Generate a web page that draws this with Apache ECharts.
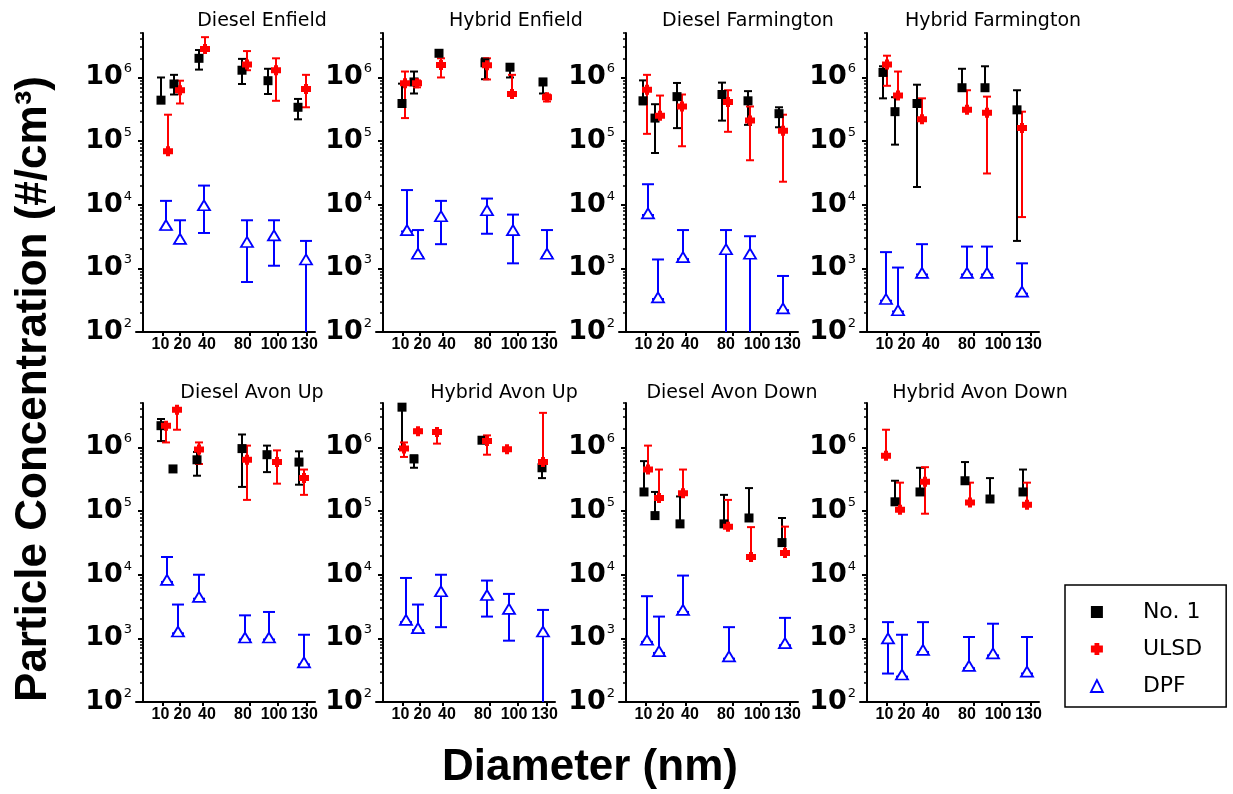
<!DOCTYPE html>
<html>
<head>
<meta charset="utf-8">
<script src="https://cdn.jsdelivr.net/npm/echarts@6/dist/echarts.min.js"></script>
<style>
  html, body { margin: 0; padding: 0; background: #fff; }
  #chart { width: 1233px; height: 794px; }
</style>
</head>
<body>
<div id="chart"></div>
<script>
// Particle size channels (nm) printed under every panel
const diameterLabels = ['10', '20', '40', '80', '100', '130'];
// Positions of the size channels along the 0–172 size axis
const channelTicks = [20, 37, 60, 107, 135, 164];
const channelLabelAt = [17.5, 39.5, 64, 100, 131, 161.5];
// Decades labelled on the concentration axis
const yTickValues = [1e2, 1e3, 1e4, 1e5, 1e6];
const yMinorValues = [];
for (let e = 2; e <= 6; e++) {
  for (let k = 2; k <= 9; k++) {
    const v = k * Math.pow(10, e);
    if (v <= 5e6) yMinorValues.push(v);
  }
}

const seriesNames = ['No. 1', 'ULSD', 'DPF'];
const seriesColors = ['#000000', '#ff0000', '#0000ff'];

// Each point: [position on size axis, mean, lower bound, upper bound] in #/cm3
const dieselEnfieldNo1 = [[18, 4.4e5, 4.4e5, 1e6], [31, 7.9e5, 5.4e5, 1.1e6], [56, 2.0e6, 1.33e6, 2.7e6], [99, 1.3e6, 7.9e5, 1.96e6], [125, 8.9e5, 5.5e5, 1.37e6], [155, 3.4e5, 2.2e5, 4.6e5]];
const dieselEnfieldUlsd = [[25, 6.9e4, 6.9e4, 2.6e5], [37, 6.3e5, 3.9e5, 8.9e5], [62, 2.8e6, 2.8e6, 4.3e6], [104, 1.6e6, 1.3e6, 2.6e6], [133, 1.3e6, 4.3e5, 2.0e6], [163, 6.6e5, 3.4e5, 1.1e6]];
const dieselEnfieldDpf = [[23, 4.8e3, 4.1e3, 1.15e4], [37, 2.9e3, 2.5e3, 5.7e3], [61, 9.8e3, 3.6e3, 2.0e4], [104, 2.6e3, 6.1e2, 5.7e3], [131, 3.3e3, 1.1e3, 5.7e3], [163, 1.38e3, 50, 2.7e3]];

const hybridEnfieldNo1 = [[19, 3.9e5, 3.9e5, 8e5], [31, 8.5e5, 5.6e5, 1.24e6], [56, 2.4e6, 2.4e6, 2.6e6], [102, 1.7e6, 9.4e5, 2.0e6], [127, 1.45e6, 1.0e6, 1.45e6], [160, 8.5e5, 5.6e5, 9.5e5]];
const hybridEnfieldUlsd = [[22, 8.1e5, 2.3e5, 1.24e6], [34, 8.1e5, 7e5, 9e5], [58, 1.57e6, 1.0e6, 2.0e6], [104, 1.55e6, 9.3e5, 2.0e6], [129, 5.5e5, 5.5e5, 1.1e6], [164, 4.9e5, 4.2e5, 5.4e5]];
const hybridEnfieldDpf = [[24, 4.0e3, 3.8e3, 1.7e4], [35, 1.7e3, 1.5e3, 4.0e3], [58, 6.6e3, 2.4e3, 1.15e4], [104, 8.2e3, 3.5e3, 1.25e4], [130, 4.0e3, 1.2e3, 7.0e3], [164, 1.7e3, 1.5e3, 4.0e3]];

const dieselFarmingtonNo1 = [[17, 4.3e5, 3.8e5, 9e5], [29, 2.3e5, 6.5e4, 3.8e5], [51, 5.0e5, 1.6e5, 8.2e5], [96, 5.4e5, 2.1e5, 8.3e5], [122, 4.3e5, 1.8e5, 6.1e5], [153, 2.7e5, 1.65e5, 3.4e5]];
const dieselFarmingtonUlsd = [[21, 6.4e5, 1.3e5, 1.1e6], [34, 2.5e5, 2.5e5, 5.2e5], [56, 3.5e5, 8.3e4, 5.4e5], [102, 4.1e5, 1.4e5, 6.3e5], [124, 2.1e5, 5.0e4, 3.5e5], [157, 1.45e5, 2.3e4, 2.6e5]];
const dieselFarmingtonDpf = [[22, 7.3e3, 6.9e3, 2.1e4], [32, 3.5e2, 3.3e2, 1.38e3], [57, 1.5e3, 1.4e3, 4.0e3], [100, 2.0e3, 50, 4.0e3], [124, 1.7e3, 50, 3.2e3], [157, 2.35e2, 2.2e2, 7.6e2]];

const hybridFarmingtonNo1 = [[16, 1.2e6, 4.7e5, 1.5e6], [28, 2.9e5, 8.8e4, 4.9e5], [50, 3.9e5, 1.9e4, 7.7e5], [95, 6.9e5, 6.9e5, 1.37e6], [118, 6.9e5, 6.9e5, 1.5e6], [150, 3.1e5, 2.7e3, 6.3e5]];
const hybridFarmingtonUlsd = [[20, 1.6e6, 7.4e5, 2.2e6], [31, 5.2e5, 5.2e5, 1.24e6], [55, 2.2e5, 2.2e5, 4.7e5], [100, 3.1e5, 3.1e5, 6.3e5], [120, 2.8e5, 3.1e4, 5.0e5], [155, 1.6e5, 6.4e3, 2.9e5]];
const hybridFarmingtonDpf = [[19, 3.3e2, 3.1e2, 1.8e3], [31, 2.2e2, 2.1e2, 1.03e3], [55, 8.5e2, 8.0e2, 2.4e3], [100, 8.5e2, 8.0e2, 2.2e3], [120, 8.5e2, 8.0e2, 2.2e3], [155, 4.3e2, 4.0e2, 1.2e3]];

const dieselAvonUpNo1 = [[18, 2.2e6, 1.26e6, 2.8e6], [30, 4.6e5, 4.2e5, 5.0e5], [54, 6.4e5, 3.6e5, 8.5e5], [99, 9.6e5, 2.4e5, 1.6e6], [124, 7.7e5, 4.1e5, 1.07e6], [156, 5.9e5, 2.6e5, 8.7e5]];
const dieselAvonUpUlsd = [[23, 2.2e6, 1.2e6, 2.2e6], [34, 3.9e6, 1.9e6, 3.9e6], [56, 9.3e5, 5.5e5, 1.2e6], [104, 6.4e5, 1.5e5, 1.07e6], [134, 5.9e5, 2.7e5, 9e5], [161, 3.3e5, 1.8e5, 4.5e5]];
const dieselAvonUpDpf = [[24, 8.3e3, 7.7e3, 1.9e4], [35, 1.28e3, 1.2e3, 3.4e3], [56, 4.5e3, 4.2e3, 1.0e4], [102, 1.03e3, 9.6e2, 2.3e3], [126, 1.03e3, 9.6e2, 2.6e3], [161, 4.2e2, 3.9e2, 1.14e3]];

const hybridAvonUpNo1 = [[19, 4.3e6, 9.4e5, 4.3e6], [31, 6.6e5, 4.8e5, 7.5e5], null, [99, 1.3e6, 1.2e6, 1.4e6], null, [159, 4.8e5, 3.3e5, 5.5e5]];
const hybridAvonUpUlsd = [[21, 9.6e5, 7.1e5, 1.2e6], [35, 1.8e6, 1.7e6, 1.9e6], [54, 1.75e6, 1.15e6, 1.75e6], [104, 1.26e6, 7.7e5, 1.55e6], [124, 9.4e5, 9.4e5, 9.4e5], [160, 5.9e5, 5.9e5, 3.5e6]];
const hybridAvonUpDpf = [[23, 1.95e3, 1.8e3, 8.9e3], [35, 1.45e3, 1.35e3, 3.4e3], [58, 5.5e3, 1.5e3, 1.0e4], [104, 4.8e3, 2.2e3, 8.1e3], [126, 2.9e3, 9.2e2, 5.0e3], [160, 1.28e3, 50, 2.8e3]];

const dieselAvonDownNo1 = [[18, 2.0e5, 2.0e5, 6.1e5], [29, 8.5e4, 8.5e4, 2.0e5], [54, 6.3e4, 6.3e4, 1.7e5], [98, 6.3e4, 6.3e4, 1.8e5], [123, 7.8e4, 7.8e4, 2.3e5], [156, 3.2e4, 3.2e4, 7.8e4]];
const dieselAvonDownUlsd = [[22, 4.5e5, 4.5e5, 1.07e6], [33, 1.6e5, 1.6e5, 4.5e5], [57, 1.9e5, 1.9e5, 4.5e5], [102, 5.7e4, 5.7e4, 1.5e5], [125, 1.9e4, 1.9e4, 5.6e4], [159, 2.2e4, 2.2e4, 5.7e4]];
const dieselAvonDownDpf = [[21, 9.5e2, 8.8e2, 4.6e3], [33, 6.3e2, 5.9e2, 2.2e3], [57, 2.8e3, 2.6e3, 9.7e3], [103, 5.2e2, 4.8e2, 1.5e3], null, [159, 8.4e2, 7.8e2, 2.1e3]];

const hybridAvonDownNo1 = [null, [28, 1.4e5, 1.4e5, 3.0e5], [53, 2.0e5, 2.0e5, 4.8e5], [98, 3.0e5, 3.0e5, 5.9e5], [123, 1.55e5, 1.55e5, 3.3e5], [156, 2.0e5, 2.0e5, 4.5e5]];
const hybridAvonDownUlsd = [[19, 7.4e5, 7.4e5, 1.9e6], [33, 1.05e5, 1.05e5, 2.8e5], [58, 2.9e5, 9.1e4, 4.9e5], [103, 1.37e5, 1.37e5, 2.8e5], null, [160, 1.26e5, 1.26e5, 2.8e5]];
const hybridAvonDownDpf = [[21, 1.0e3, 2.8e2, 1.8e3], [35, 2.7e2, 2.5e2, 1.14e3], [56, 6.6e2, 6.1e2, 1.8e3], [102, 3.7e2, 3.4e2, 1.05e3], [126, 5.8e2, 5.4e2, 1.7e3], [160, 3.0e2, 2.8e2, 1.05e3]];

const panels = [
  { title: 'Diesel Enfield', sets: [dieselEnfieldNo1, dieselEnfieldUlsd, dieselEnfieldDpf] },
  { title: 'Hybrid Enfield', sets: [hybridEnfieldNo1, hybridEnfieldUlsd, hybridEnfieldDpf] },
  { title: 'Diesel Farmington', sets: [dieselFarmingtonNo1, dieselFarmingtonUlsd, dieselFarmingtonDpf] },
  { title: 'Hybrid Farmington', sets: [hybridFarmingtonNo1, hybridFarmingtonUlsd, hybridFarmingtonDpf] },
  { title: 'Diesel Avon Up', sets: [dieselAvonUpNo1, dieselAvonUpUlsd, dieselAvonUpDpf] },
  { title: 'Hybrid Avon Up', sets: [hybridAvonUpNo1, hybridAvonUpUlsd, hybridAvonUpDpf] },
  { title: 'Diesel Avon Down', sets: [dieselAvonDownNo1, dieselAvonDownUlsd, dieselAvonDownDpf] },
  { title: 'Hybrid Avon Down', sets: [hybridAvonDownNo1, hybridAvonDownUlsd, hybridAvonDownDpf] }
];

// ---- layout ----
const colAxisX = [143, 383, 626, 867];
const rowTop = [33, 403];
const plotHeight = 299;
const titleCenters = [[262, 516, 748, 993], [252, 504, 732, 980]];
const titleMiddles = [21, 393];

const ulsdSymbol = 'path://M3,0L7,0L7,2L10,2L10,8L7,8L7,10L3,10L3,8L0,8L0,2L3,2Z';
const markerSymbols = ['rect', ulsdSymbol, 'triangle'];
const markerSizes = [9, 10, [12, 10]];
const capHalfWidths = [4, 4, 6];

function errorBarRenderer(capHalf) {
  return function (params, api) {
    const x = api.value(0), m = api.value(1), lo = api.value(2), hi = api.value(3);
    const pm = api.coord([x, m]);
    const pl = api.coord([x, lo]);
    const ph = api.coord([x, hi]);
    const style = { stroke: api.visual('color'), lineWidth: 2 };
    const children = [];
    if (hi > m) {
      children.push({ type: 'line', shape: { x1: ph[0], y1: ph[1], x2: pm[0], y2: pm[1] }, style });
      children.push({ type: 'line', shape: { x1: ph[0] - capHalf, y1: ph[1], x2: ph[0] + capHalf, y2: ph[1] }, style });
    }
    if (lo < m) {
      children.push({ type: 'line', shape: { x1: pl[0], y1: pl[1], x2: pm[0], y2: pm[1] }, style });
      children.push({ type: 'line', shape: { x1: pl[0] - capHalf, y1: pl[1], x2: pl[0] + capHalf, y2: pl[1] }, style });
    }
    return { type: 'group', children };
  };
}

const grids = [], xAxes = [], yAxes = [], series = [], graphics = [];

panels.forEach((p, i) => {
  const row = Math.floor(i / 4), col = i % 4;
  grids.push({ left: colAxisX[col] - 7, top: rowTop[row], width: 179, height: plotHeight, containLabel: false });

  xAxes.push({
    type: 'value', gridIndex: i, min: -7, max: 172,
    axisLine: { show: true, onZero: false, lineStyle: { color: '#000', width: 2 } },
    axisTick: { show: true, customValues: channelTicks, length: 4, lineStyle: { color: '#000', width: 2 } },
    axisLabel: {
      customValues: channelLabelAt,
      formatter: v => diameterLabels[channelLabelAt.indexOf(v)],
      margin: 5, color: '#000',
      fontFamily: '"Liberation Sans Narrow", "Liberation Sans", sans-serif',
      fontWeight: 'bold', fontSize: 16
    },
    splitLine: { show: false }
  });

  // decade axis with labels, standing at size-axis position 0
  yAxes.push({
    type: 'log', logBase: 10, gridIndex: i, min: 1e2, max: 5e6, position: 'left',
    axisLine: { show: true, onZero: true, onZeroAxisIndex: i, lineStyle: { color: '#000', width: 2 } },
    axisTick: { show: true, customValues: yTickValues, length: 5, lineStyle: { color: '#000', width: 2 } },
    axisLabel: {
      customValues: yTickValues,
      margin: 4,
      formatter: v => '{b|10}{s|' + Math.round(Math.log10(v)) + '}',
      rich: {
        b: { fontFamily: '"DejaVu Sans", sans-serif', fontWeight: 'bold', fontSize: 27, color: '#000' },
        s: { fontFamily: '"DejaVu Sans", sans-serif', fontSize: 13, color: '#000', padding: [0, 0, 17, 1] }
      }
    },
    splitLine: { show: false }
  });
  // minor ticks between decades, on the same line
  yAxes.push({
    type: 'log', logBase: 10, gridIndex: i, min: 1e2, max: 5e6, position: 'left',
    axisLine: { show: true, onZero: true, onZeroAxisIndex: i, lineStyle: { color: '#000', width: 2, opacity: 0 } },
    axisTick: { show: true, customValues: yMinorValues, length: 3, lineStyle: { color: '#000', width: 1.5 } },
    axisLabel: { show: false },
    splitLine: { show: false }
  });

  p.sets.forEach((points, s) => {
    const pts = points.filter(d => d !== null);
    series.push({
      type: 'custom', name: seriesNames[s] + ' range',
      xAxisIndex: i, yAxisIndex: 2 * i, clip: true,
      itemStyle: { color: seriesColors[s] },
      renderItem: errorBarRenderer(capHalfWidths[s]),
      encode: { x: 0, y: 1 },
      data: pts,
      silent: true, animation: false
    });
    series.push({
      type: 'scatter', name: seriesNames[s],
      xAxisIndex: i, yAxisIndex: 2 * i,
      symbol: markerSymbols[s], symbolSize: markerSizes[s],
      itemStyle: s === 2
        ? { color: '#ffffff', borderColor: seriesColors[s], borderWidth: 1.8, opacity: 1 }
        : { color: seriesColors[s], opacity: 1 },
      data: pts.map(d => [d[0], d[1]]),
      silent: true, animation: false
    });
  });

  graphics.push({
    type: 'text', x: titleCenters[row][col], y: titleMiddles[row],
    style: { text: p.title, align: 'center', verticalAlign: 'middle', fill: '#000',
      font: '19px "DejaVu Sans", sans-serif' }
  });
});

graphics.push({
  type: 'text', x: 590, y: 768,
  style: { text: 'Diameter (nm)', align: 'center', verticalAlign: 'middle', fill: '#000',
    font: 'bold 44px "Liberation Sans", Arial, sans-serif' }
});
graphics.push({
  type: 'text', x: 34, y: 389, rotation: Math.PI / 2,
  style: { text: 'Particle Concentration (#/cm\u00B3)', align: 'center', verticalAlign: 'middle', fill: '#000',
    font: 'bold 44px "Liberation Sans", Arial, sans-serif' }
});

const option = {
  backgroundColor: '#ffffff',
  animation: false,
  grid: grids,
  xAxis: xAxes,
  yAxis: yAxes,
  series: series,
  legend: {
    left: 1065, top: 585, orient: 'vertical',
    padding: [14, 24, 8, 25],
    itemGap: 11, itemWidth: 12, itemHeight: 12,
    borderColor: '#000', borderWidth: 1.5,
    textStyle: { fontFamily: '"DejaVu Sans", sans-serif', fontSize: 22, color: '#000', lineHeight: 26, padding: [0, 0, 0, 35] },
    data: [
      { name: 'No. 1', icon: 'rect', itemStyle: { color: '#000' } },
      { name: 'ULSD', icon: ulsdSymbol, itemStyle: { color: '#ff0000' } },
      { name: 'DPF', icon: 'triangle', itemStyle: { color: '#ffffff', borderColor: '#0000ff', borderWidth: 1.8 } }
    ],
    selectedMode: false
  },
  graphic: graphics
};

const chart = echarts.init(document.getElementById('chart'));
chart.setOption(option);
</script>
</body>
</html>
